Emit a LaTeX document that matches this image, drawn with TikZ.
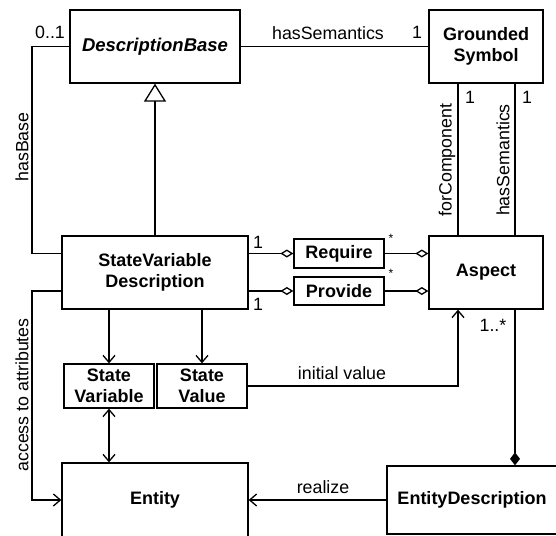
\documentclass[tikz,border=0pt]{standalone}
\usepackage{fontspec}
\setmainfont{Liberation Sans}
\usetikzlibrary{arrows.meta,calc}
\begin{document}
\begin{tikzpicture}[x=1pt,y=-1pt,
  cls/.style={draw, line width=1.3pt, font=\fontsize{18}{21.5}\selectfont\bfseries, align=center, inner sep=0pt, anchor=center},
  lbl/.style={font=\fontsize{17.8}{20}\selectfont, inner sep=0pt},
  small/.style={font=\fontsize{12}{14}\selectfont, inner sep=0pt},
  conn/.style={line width=1.3pt},
  opena/.style={conn, -{Straight Barb[length=7pt,width=12pt,line width=1.3pt]}},
  dbla/.style={conn, {Straight Barb[length=7pt,width=12pt,line width=1.3pt]}-{Straight Barb[length=7pt,width=12pt,line width=1.3pt]}},
  gen/.style={conn, -{Triangle[open,length=18pt,width=22pt,line width=1.3pt]}},
  agg/.style={conn, -{Diamond[open,length=13pt,width=8pt,line width=1.3pt]}},
  comp/.style={conn, -{Diamond[length=13pt,width=10pt]}}
]
\useasboundingbox (0,0) rectangle (556,535);
\fill[white] (0,0) rectangle (556,535);

% classes
\node[cls, minimum width=170pt, minimum height=73pt, font=\fontsize{18.5}{21.5}\selectfont\bfseries\itshape] (db) at (155,46.5) {DescriptionBase};
\node[cls, minimum width=114pt, minimum height=73pt] (gs) at (486,46.5) {Grounded\\Symbol};
\node[cls, minimum width=186pt, minimum height=73pt] (svd) at (155,272.5) {StateVariable\\Description};
\node[cls, minimum width=114pt, minimum height=73pt] (asp) at (486,272.5) {Aspect};
\node[cls, minimum width=90pt, minimum height=29pt] (req) at (339,253.5) {Require};
\node[cls, minimum width=90pt, minimum height=28pt] (prov) at (339,291) {Provide};
\node[cls, minimum width=90pt, minimum height=44pt] (sv) at (109,386) {State\\Variable};
\node[cls, minimum width=90pt, minimum height=44pt] (sval) at (202,386) {State\\Value};
\node[cls, minimum width=186pt, minimum height=74pt] (ent) at (155,500) {Entity};
\node[cls, minimum width=170pt, minimum height=68pt, text width=170pt] (ed) at (472,500) {EntityDescription};

\coordinate (lx) at (32,0);

% connectors
\draw[conn] (db.east) -- (gs.west);
\draw[gen] (svd.north) -- (db.south);
\draw[conn] (db.west) -- (db.west -| lx) -- (lx |- req) -- (svd.west |- req);
\draw[opena] (svd.west |- prov) -- (lx |- prov) -- (lx |- ent) -- (ent.west);
\draw[conn] ([xshift=-28pt]gs.south) -- ([xshift=-28pt]asp.north);
\draw[conn] ([xshift=29pt]gs.south) -- ([xshift=29pt]asp.north);
\draw[agg] (svd.east |- req.west) -- (req.west);
\draw[agg] (svd.east |- prov.west) -- (prov.west);
\draw[agg] (req.east) -- (asp.west |- req.east);
\draw[agg] (prov.east) -- (asp.west |- prov.east);
\draw[opena] (svd.south -| sv) -- (sv.north);
\draw[opena] (svd.south -| sval) -- (sval.north);
\draw[dbla] (sv.south) -- (ent.north -| sv);
\draw[opena] (sval.east) -| ([xshift=-28pt]asp.south);
\draw[comp] ([xshift=29pt]asp.south) -- ([xshift=29pt]asp.south |- ed.north);
\draw[opena] (ed.west) -- (ent.east |- ed.west);

% labels
\node[lbl] (l01) at (50,32) {0..1};
\node[lbl] (lhs) at (328,33) {hasSemantics};
\node[lbl] (lgs1) at (417,32) {1};
\node[lbl] (lfc1) at (470,97) {1};
\node[lbl] (lhs1) at (527,97) {1};
\node[lbl, rotate=90] (lfc) at (447,160) {forComponent};
\node[lbl, rotate=90] (lhs2) at (503,160) {hasSemantics};
\node[lbl, rotate=90] (lhb) at (22,147) {hasBase};
\node[lbl, rotate=90] (lacc) at (22,395) {access to attributes};
\node[lbl] (lr1) at (258,242) {1};
\node[lbl] (lp1) at (258,304) {1};
\node[small] (lrs) at (391,238) {*};
\node[small] (lps) at (391,273) {*};
\node[lbl] (lasp) at (493,325) {1..*};
\node[lbl] (liv) at (342,373) {initial value};
\node[lbl] (lrl) at (323,487) {realize};
\end{tikzpicture}
\end{document}
